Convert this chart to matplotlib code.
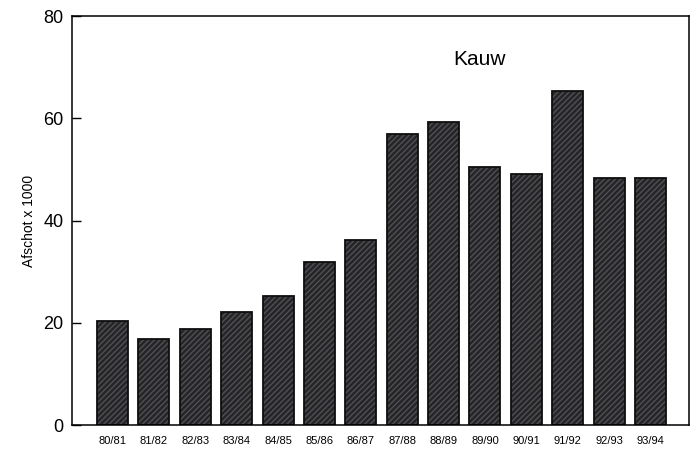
import matplotlib.pyplot as plt

plt.rcParams['font.family'] = ['Liberation Sans', 'DejaVu Sans']

# seizoenen en afschot (x 1000)
seizoenen = ['80/81', '81/82', '82/83', '83/84', '84/85', '85/86', '86/87',
             '87/88', '88/89', '89/90', '90/91', '91/92', '92/93', '93/94']
afschot = [20.4, 16.8, 18.8, 22.2, 25.2, 31.9, 36.2,
           56.9, 59.2, 50.5, 49.1, 65.4, 48.3, 48.3]

fig = plt.figure(figsize=(6.97, 4.58), dpi=100)
ax = fig.add_axes([0.1033, 0.072, 0.8852, 0.893])

x = range(len(seizoenen))
# gearceerde vulling
ax.bar(x, afschot, width=0.75, color='#252528', edgecolor='#505055',
       hatch='//////', linewidth=0)
# zwarte rand
ax.bar(x, afschot, width=0.75, fill=False, edgecolor='#0e0e0e', linewidth=1.3)

ax.set_xlim(-0.98, 13.93)
ax.set_ylim(0, 80)
ax.set_yticks([0, 20, 40, 60, 80])
ax.tick_params(axis='y', direction='in', length=6.5, width=1, labelsize=13, pad=6)
ax.tick_params(axis='x', length=0, labelsize=8, pad=8)
ax.set_xticks(list(x))
ax.set_xticklabels(seizoenen)
for s in ax.spines.values():
    s.set_linewidth(1.1)

ax.set_ylabel('Afschot x 1000', fontsize=10, labelpad=5)
ax.text(0.661, 0.88, 'Kauw', transform=ax.transAxes, fontsize=15, ha='center')

fig.savefig('out.png', dpi=100)
